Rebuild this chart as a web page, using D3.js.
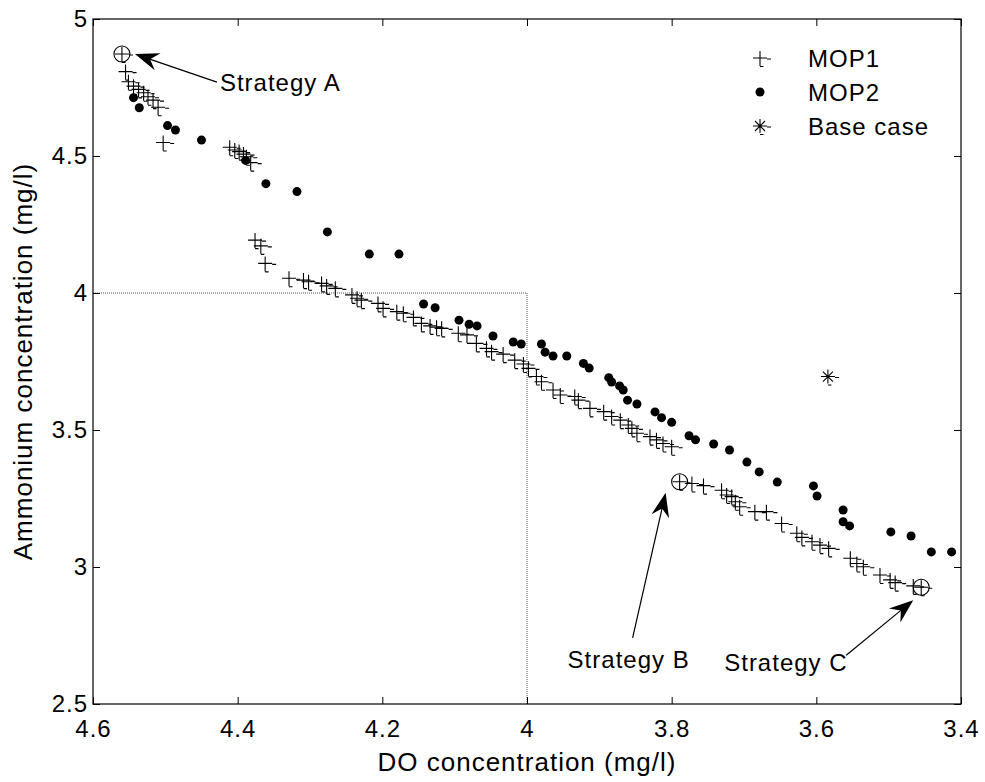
<!DOCTYPE html>
<html><head><meta charset="utf-8">
<script src="https://cdn.jsdelivr.net/npm/d3@7"></script>
<style>
html,body{margin:0;padding:0;background:#fff;}
text{font-family:"Liberation Sans",Arial,sans-serif;fill:#000;}
</style></head>
<body>
<svg id="chart" width="985" height="782"></svg>
<script>
// ---- data ----
const xTicks = [4.6, 4.4, 4.2, 4.0, 3.8, 3.6, 3.4];
const xTickLabels = ["4.6", "4.4", "4.2", "4", "3.8", "3.6", "3.4"];
const yTicks = [2.5, 3.0, 3.5, 4.0, 4.5, 5.0];
const yTickLabels = ["2.5", "3", "3.5", "4", "4.5", "5"];

const mop1X = [4.560,4.555,4.551,4.544,4.537,4.530,4.524,4.517,4.510,4.503,
  4.411,4.404,4.398,4.392,4.388,4.382,
  4.376,4.368,4.362,
  4.329,4.309,4.302,4.284,4.277,4.265,4.242,4.235,4.229,4.206,4.199,4.180,4.171,4.157,4.146,4.134,4.125,4.118,4.095,4.083,4.070,4.056,4.049,4.033,4.017,4.005,3.998,3.987,3.980,
  3.964,3.954,3.934,3.929,3.913,3.894,3.883,3.871,3.860,3.855,3.848,3.830,3.821,3.812,3.800,
  3.789,3.772,3.756,3.731,3.724,3.717,3.712,3.706,3.685,3.669,3.648,3.627,3.620,3.606,3.595,3.583,3.553,3.544,3.535,3.512,3.498,3.491,3.466,3.455];
const mop1Y = [4.872,4.808,4.771,4.755,4.743,4.731,4.716,4.704,4.678,4.549,
  4.532,4.522,4.516,4.507,4.497,4.476,
  4.193,4.172,4.108,
  4.054,4.047,4.041,4.035,4.026,4.017,3.993,3.981,3.974,3.962,3.944,3.932,3.926,3.911,3.889,3.880,3.875,3.871,3.853,3.847,3.816,3.798,3.786,3.777,3.755,3.741,3.725,3.695,3.676,
  3.646,3.628,3.622,3.609,3.579,3.567,3.549,3.536,3.518,3.506,3.488,3.476,3.464,3.451,3.439,
  3.311,3.305,3.297,3.280,3.263,3.257,3.238,3.220,3.202,3.202,3.159,3.123,3.108,3.092,3.080,3.068,3.032,3.013,3.001,2.971,2.953,2.943,2.931,2.926];

const mop2X = [4.544,4.536,4.497,4.486,4.450,4.389,4.361,4.318,4.276,4.218,4.177,4.143,4.127,4.094,4.080,4.069,4.047,4.019,4.008,3.980,3.975,3.964,3.945,3.922,3.914,3.887,3.883,3.872,3.867,3.861,3.848,3.823,3.814,3.800,3.776,3.767,3.742,3.720,3.696,3.679,3.654,3.604,3.599,3.563,3.563,3.554,3.497,3.469,3.441,3.413];
const mop2Y = [4.713,4.676,4.611,4.595,4.558,4.484,4.399,4.370,4.223,4.142,4.142,3.960,3.946,3.901,3.886,3.880,3.843,3.821,3.814,3.814,3.784,3.770,3.770,3.743,3.726,3.691,3.675,3.661,3.646,3.609,3.595,3.566,3.545,3.528,3.479,3.464,3.449,3.427,3.383,3.347,3.310,3.296,3.259,3.208,3.165,3.150,3.128,3.113,3.055,3.055];

const baseX = [3.584];
const baseY = [3.695];

const strategyNames = ["Strategy A", "Strategy B", "Strategy C"];
const strategyX = [4.560, 3.789, 3.455];
const strategyY = [4.872, 3.311, 2.926];

const refX = 4.0, refY = 4.0;
const legendNames = ["MOP1", "MOP2", "Base case"];

// ---- layout ----
const svg = d3.select("#chart");
const L = 93, R = 961, T = 19, B = 704;
const x = d3.scaleLinear().domain([4.6, 3.4]).range([L, R]);
const y = d3.scaleLinear().domain([2.5, 5]).range([B, T]);
const FS = "24px", LS = "1px";

// reference dotted lines
svg.append("path")
  .attr("d", d3.line()([[x(4.6), y(refY)], [x(refX), y(refY)], [x(refX), y(2.5)]]))
  .attr("fill", "none").attr("stroke", "#555").attr("stroke-width", 1)
  .attr("stroke-dasharray", "1,1");

// axes
function styleAxis(g, showText) {
  g.select(".domain").remove();
  g.selectAll(".tick line").attr("stroke", "#000").attr("stroke-width", 1);
  g.selectAll(".tick text").style("font-size", FS).style("letter-spacing", LS)
    .style("font-family", '"Liberation Sans",Arial,sans-serif').attr("fill", "#000");
  if (!showText) g.selectAll(".tick text").remove();
}
const xb = svg.append("g").attr("transform", `translate(0,${B})`)
  .call(d3.axisBottom(x).tickValues(xTicks).tickFormat((d, i) => xTickLabels[i]).tickSize(-7).tickPadding(16));
styleAxis(xb, true);
const xt = svg.append("g").attr("transform", `translate(0,${T})`)
  .call(d3.axisTop(x).tickValues(xTicks).tickSize(-7));
styleAxis(xt, false);
const yl = svg.append("g").attr("transform", `translate(${L},0)`)
  .call(d3.axisLeft(y).tickValues(yTicks).tickFormat((d, i) => yTickLabels[i]).tickSize(-7).tickPadding(5));
styleAxis(yl, true);
const yr = svg.append("g").attr("transform", `translate(${R},0)`)
  .call(d3.axisRight(y).tickValues(yTicks).tickSize(-7));
styleAxis(yr, false);

svg.append("rect").attr("x", L).attr("y", T).attr("width", R - L).attr("height", B - T)
  .attr("fill", "none").attr("stroke", "#000").attr("stroke-width", 1.2);

// axis labels
svg.append("text").attr("x", (L + R) / 2).attr("y", 771).attr("text-anchor", "middle")
  .style("font-size", "26px").style("letter-spacing", LS).text("DO concentration (mg/l)");
svg.append("text").attr("transform", `translate(32,${(T + B) / 2}) rotate(-90)`).attr("text-anchor", "middle")
  .style("font-size", "26px").style("letter-spacing", LS).text("Ammonium concentration (mg/l)");

// markers
const plusPath = "M-7,0H7M7,1H11M0,-7V8M0,8.5H3.5";
const starPath = "M-7,0H7M0,-7V7M-5,-5L5,5M-5,5L5,-5M7,1H11M0,8.5H3.5";

const g = svg.append("g");
g.selectAll(".mop2").data(mop2X.map((d, i) => [d, mop2Y[i]])).join("circle")
  .attr("cx", d => x(d[0])).attr("cy", d => y(d[1])).attr("r", 4.5).attr("fill", "#000");
g.selectAll(".mop1").data(mop1X.map((d, i) => [d, mop1Y[i]])).join("path")
  .attr("transform", d => `translate(${x(d[0])},${y(d[1])})`).attr("d", plusPath)
  .attr("fill", "none").attr("stroke", "#000").attr("stroke-width", 1.1);
g.selectAll(".base").data(baseX.map((d, i) => [d, baseY[i]])).join("path")
  .attr("transform", d => `translate(${x(d[0])},${y(d[1])})`).attr("d", starPath)
  .attr("fill", "none").attr("stroke", "#000").attr("stroke-width", 1.1);
g.selectAll(".strat").data(strategyX.map((d, i) => [d, strategyY[i]])).join("circle")
  .attr("cx", d => x(d[0])).attr("cy", d => y(d[1])).attr("r", 8)
  .attr("fill", "none").attr("stroke", "#000").attr("stroke-width", 1.1);

// annotations (offsets relative to strategy point)
const ann = [
  { tip: [13, 0], tail: [95, 28], text: [98, 36.5], anchor: "start" },
  { tip: [-14, 11], tail: [-47, 156], text: [-112, 186], anchor: "start" },
  { tip: [-8, 13], tail: [-75, 68], text: [-197, 84], anchor: "start" }
];
ann.forEach((a, i) => {
  const px = x(strategyX[i]), py = y(strategyY[i]);
  const tx = px + a.tip[0], ty = py + a.tip[1];
  const sx = px + a.tail[0], sy = py + a.tail[1];
  const ang = Math.atan2(ty - sy, tx - sx) * 180 / Math.PI;
  svg.append("line").attr("x1", sx).attr("y1", sy).attr("x2", tx - 14 * Math.cos(ang * Math.PI / 180)).attr("y2", ty - 14 * Math.sin(ang * Math.PI / 180))
    .attr("stroke", "#000").attr("stroke-width", 1.2);
  svg.append("path").attr("transform", `translate(${tx},${ty}) rotate(${ang})`)
    .attr("d", "M0,0L-24,-9L-16,0L-24,9Z").attr("fill", "#000");
  svg.append("text").attr("x", px + a.text[0]).attr("y", py + a.text[1]).attr("text-anchor", a.anchor)
    .style("font-size", FS).style("letter-spacing", LS).text(strategyNames[i]);
});

// legend
const legY = [58, 92, 126];
const lg = svg.append("g");
lg.append("path").attr("transform", `translate(760,${legY[0]})`).attr("d", plusPath)
  .attr("fill", "none").attr("stroke", "#000").attr("stroke-width", 1.1);
lg.append("circle").attr("cx", 760).attr("cy", legY[1]).attr("r", 4.5).attr("fill", "#000");
lg.append("path").attr("transform", `translate(760,${legY[2]})`).attr("d", starPath)
  .attr("fill", "none").attr("stroke", "#000").attr("stroke-width", 1.1);
legendNames.forEach((n, i) => {
  lg.append("text").attr("x", 808).attr("y", legY[i] + 8.5)
    .style("font-size", FS).style("letter-spacing", LS).text(n);
});
</script>
</body></html>
